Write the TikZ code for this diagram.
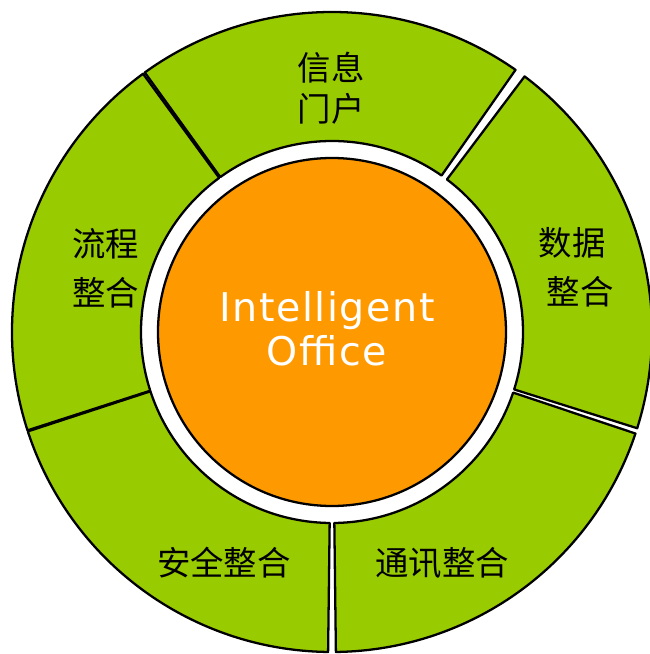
\documentclass[tikz,border=0pt]{standalone}
\usepackage{fontspec}
\newfontfamily\cjk{Noto Sans CJK SC}
\newfontfamily\hubfont[LetterSpace=4]{DejaVu Sans}
\definecolor{segGreen}{HTML}{99CC00}
\definecolor{hubOrange}{HTML}{FF9900}

\begin{document}
\begin{tikzpicture}[line join=round]
    \tikzstyle{every node}=[font=\cjk\fontsize{19}{28}\selectfont, align=center, inner sep=0pt];
    \tikzstyle{segment}=[draw=black, fill=segGreen, line width=1.3pt];
    \useasboundingbox (-6.64,-6.44) rectangle (6.36,6.64);
    \clip (-6.64,-6.44) rectangle (6.36,6.64);

    % ring of five segments
    \foreach \a/\b in {55/125.8, 126.2/197.9, 198.1/269.3, 270.7/341.5, 342.5/413}
      \draw[segment] (\a:6.4) arc[start angle=\a, end angle=\b, radius=6.4]
        -- (\b:3.82) arc[start angle=\b, end angle=\a, radius=3.82] -- cycle;

    \node at (0, 0) (hub) [circle, draw, fill=hubOrange, line width=1.3pt, minimum size=6.96cm] {};
    \node at (-0.1, 0.06) (hubtext) [font=\hubfont\fontsize{22.5}{25}\selectfont, text=white] {Intelligent\\Office};

    \node at (-0.02, 4.87)  (info)   [font=\cjk\fontsize{19}{23.3}\selectfont] {信息\\门户};
    \node at (-4.52, 1.27)  (flow)   {流程\\整合};
    \node at (4.88, 1.30)   (data)   [align=left] {数据\\\hspace{0.16cm}整合};
    \node at (-2.16, -4.62) (safety) {安全整合};
    \node at (2.20, -4.62)  (comm)   {通讯整合};
\end{tikzpicture}
\end{document}
